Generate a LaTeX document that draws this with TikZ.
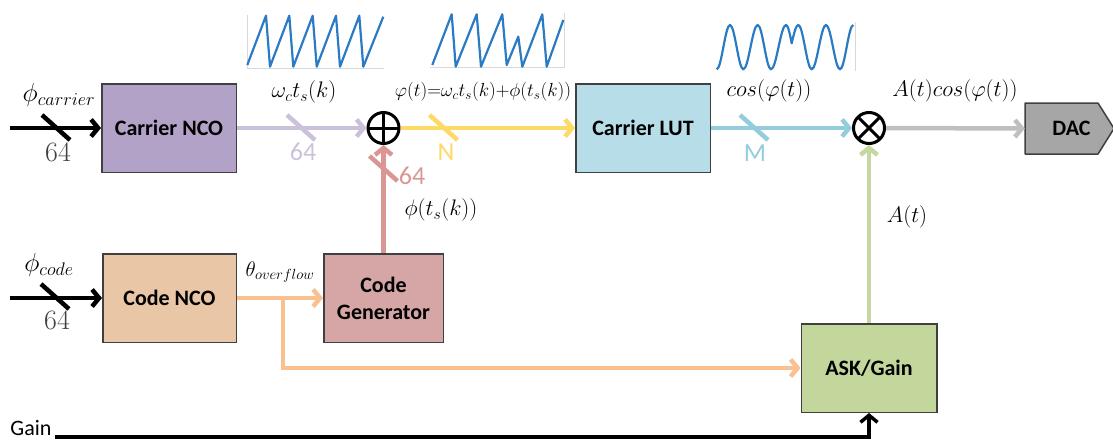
\documentclass[tikz,border=0pt]{standalone}
\usepackage{fix-cm}
\usepackage{fontspec}
\newfontfamily\carl{Carlito}
\usetikzlibrary{arrows.meta,calc}
\definecolor{cncofill}{HTML}{B3A2C7}
\definecolor{purp}{HTML}{CCC1DA}
\definecolor{lutfill}{HTML}{B7DEE8}
\definecolor{tealc}{HTML}{93CDDD}
\definecolor{yel}{HTML}{FFD966}
\definecolor{codefill}{HTML}{E8C6A6}
\definecolor{genfill}{HTML}{D5A6A5}
\definecolor{redc}{HTML}{D99694}
\definecolor{orng}{HTML}{FAC090}
\definecolor{askfill}{HTML}{C3D69B}
\definecolor{grn}{HTML}{C5D89F}
\definecolor{dacfill}{HTML}{A6A6A6}
\definecolor{greyc}{HTML}{BFBFBF}
\definecolor{boxedge}{HTML}{404040}
\definecolor{wave}{HTML}{2A7BC3}
\definecolor{axisc}{HTML}{D9D9D9}
\tikzset{
  blockbox/.style={draw=boxedge, line width=1.5pt, minimum height=88.5pt, inner sep=0pt,
    font=\carl\bfseries\fontsize{22}{27}\selectfont, align=center},
  bus/.style={line width=4.5pt},
  arr/.style={-{Straight Barb[length=7pt,width=17pt]}},
  lbl/.style={font=\fontsize{22.5}{26}\selectfont, inner sep=0pt},
  biglbl/.style={font=\fontsize{26}{30}\selectfont, inner sep=0pt},
  widthlbl/.style={font=\carl\fontsize{26}{28}\selectfont, inner sep=0pt},
  blacklbl/.style={font=\fontsize{28}{30}\selectfont, inner sep=0pt, text=black!75},
  sumnode/.style={circle, draw=black, line width=3pt, minimum size=31pt, inner sep=0pt,
    path picture={\draw[line width=3pt] (path picture bounding box.north) -- (path picture bounding box.south)
      (path picture bounding box.west) -- (path picture bounding box.east);}},
  mulnode/.style={circle, draw=black, line width=3pt, minimum size=31pt, inner sep=0pt,
    path picture={\draw[line width=3pt] (path picture bounding box.north west) -- (path picture bounding box.south east)
      (path picture bounding box.south west) -- (path picture bounding box.north east);}},
  busmark/.pic={\draw[line width=4.5pt] (-14,-13) -- (14,12);},
  wavepath/.style={draw=wave, line width=2.2pt, line join=round},
  axisline/.style={draw=axisc, line width=1pt}
}
\begin{document}
\begin{tikzpicture}[x=1pt,y=-1pt]
\useasboundingbox (0,0) rectangle (1113,439);

% waveform thumbnails
\draw[axisline] (247,15) -- (247,68) -- (384,68);
\draw[wavepath] (247.3,65) -- (266,15.7) -- (270,66.7) -- (289.3,15.7) -- (293.3,66.7) -- (312.7,15.7) -- (316.7,66.7) -- (336,15.7) -- (340,66.7) -- (359.3,15.7) -- (363.3,66.7) -- (383.3,16.7);
\draw[axisline] (430,67.5) -- (564.5,67.5) -- (564.5,13);
\draw[wavepath] (432.3,65) -- (451.7,14.3) -- (455.7,66.7) -- (476.7,14.3) -- (481,66.7) -- (502.3,14.3) -- (506.7,65) -- (518.3,36.7) -- (522.3,66.7) -- (542.3,14.3) -- (546.7,66.7) -- (563.3,20);
\draw[axisline] (855.5,22) -- (855.5,71);
\draw[wavepath] (716.7,69.3) cos (723.35,47.15) sin (730,25) cos (736.65,47.15) sin (743.3,69.3) cos (750.5,47.15) sin (757.7,25) cos (764.35,47.15) sin (771,69.3) cos (778.5,47.15) sin (786,25) cos (791.7,43.3) sin (798.3,25) cos (805,47.15) sin (811.7,69.3) cos (818.85,47.15) sin (826,25) cos (833,47.15) sin (840,69.3) cos (846.65,47.15) sin (853.3,25);

% DAC outline (pentagon pointing right)
\draw[draw=boxedge, line width=1.5pt, fill=dacfill, line join=round]
  (1025,103) -- (1098,103) -- (1114,128.5) -- (1098,154) -- (1025,154) -- cycle;

% blocks
\node[blockbox, fill=cncofill, minimum width=134.5pt] (cnco) at (169,128) {Carrier NCO};
\node[blockbox, fill=lutfill, minimum width=134.5pt] (lut) at (643,128) {Carrier LUT};
\node[blockbox, fill=codefill, minimum width=133.5pt] (codenco) at (169.5,298) {Code NCO};
\node[blockbox, fill=genfill, minimum width=119.5pt] (codegen) at (383.5,298) {Code\\Generator};
\node[blockbox, fill=askfill, minimum width=135.5pt] (ask) at (869,368) {ASK/Gain};
\node[sumnode] (add) at (383.5,128) {};
\node[mulnode] (mult) at (869,128) {};
\node[minimum width=73pt, minimum height=51pt, inner sep=0pt,
  font=\carl\bfseries\fontsize{22}{24}\selectfont] (dac) at (1061.5,128.5) {\hspace*{20pt}DAC};

% free ends
\coordinate (pcin) at (10,128);
\coordinate (pdin) at (10,298);
\coordinate (gin) at (55,437);
\coordinate (br) at (283,298);

% connectors
\draw[bus,black,arr] (pcin) -- (cnco.west);
\draw[bus,purp,arr] (cnco.east) -- (add.west);
\draw[bus,yel,arr] (add.east) -- (lut.west);
\draw[bus,tealc,arr] (lut.east) -- (mult.west);
\draw[bus,greyc,arr] (mult.east) -- (dac.west);
\draw[bus,redc,arr] (codegen.north) -- (add.south);
\draw[bus,black,arr] (pdin) -- (codenco.west);
\draw[bus,orng,arr] (codenco.east) -- (codegen.west);
\draw[bus,orng,arr] (br) |- (ask.west);
\draw[bus,grn,arr] (ask.north) -- (mult.south);
\draw[line width=3.5pt,black,arr] (gin) -| (ask.south);

% bus width marks
\pic[black] at (56,128) {busmark};
\pic[purp] at (301,128) {busmark};
\pic[yel] at (443.5,128) {busmark};
\pic[tealc] at (754,128) {busmark};
\pic[redc] at (383.5,169) {busmark};
\pic[black] at (55,297) {busmark};

% labels
\node[biglbl] (lpc) at (59,95) {$\phi_{carrier}$};
\node[blacklbl] (l64a) at (58,152) {64};
\node[biglbl] (lpd) at (49,265) {$\phi_{code}$};
\node[blacklbl] (l64b) at (57,320) {64};
\node[lbl] (lw) at (304,92) {$\omega_c t_s(k)$};
\node[widthlbl, text=purp] (l64c) at (303,152) {64};
\node[font=\fontsize{19}{22}\selectfont, inner sep=0pt] (lphi) at (483,92) {$\varphi(t){=}\omega_c t_s(k){+}\phi(t_s(k))$};
\node[widthlbl, text=yel] (lN) at (446,152) {N};
\node[widthlbl, text=redc] (l64d) at (412,176) {64};
\node[lbl] (lpts) at (441,210) {$\phi(t_s(k))$};
\node[lbl] (lcos) at (769,91) {$cos(\varphi(t))$};
\node[widthlbl, text=tealc] (lM) at (755,153) {M};
\node[lbl] (lacos) at (955,91) {$A(t)cos(\varphi(t))$};
\node[lbl] (lA) at (907,217) {$A(t)$};
\node[font=\fontsize{21}{24}\selectfont, inner sep=0pt] (lth) at (280,272) {$\theta_{overflow}$};
\node[font=\carl\fontsize{22}{24}\selectfont, inner sep=0pt] (lgain) at (31,428) {Gain};
\end{tikzpicture}
\end{document}
